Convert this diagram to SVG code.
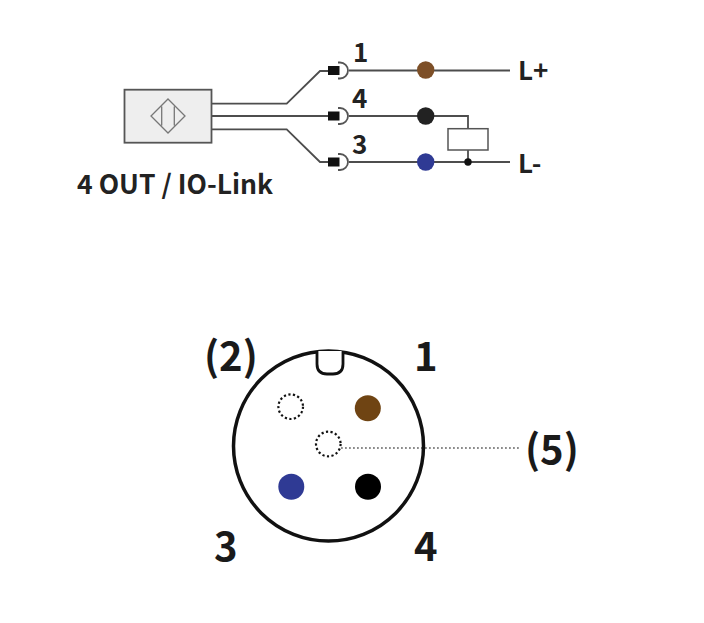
<svg xmlns="http://www.w3.org/2000/svg" width="704" height="623" viewBox="0 0 704 623">
<style>
.w{fill:none;stroke:#4d4d4d;stroke-width:1.800}
.a{fill:none;stroke:#555;stroke-width:1.800}
.t{font-family:"Noto Sans CJK KR","Noto Sans",sans-serif;font-weight:700;fill:#222}
.s{font-size:26px}
.b{font-size:40px;fill:#1a1a1a}
.d{fill:none;stroke:#111;stroke-width:2.200;stroke-dasharray:2.200 2.400}
</style>
<defs>
<g id="plug"><rect x="328" y="-4.500" width="11.500" height="9" fill="#111"/><path class="a" d="M338-8H340A8 8 0 0 1 340 8H338"/></g>
</defs>
<rect width="704" height="623" fill="#fff"/>
<g id="connectors">
<path class="w" d="M211 103.700H286.700L320 71H330M349 70.500H510"/>
<path class="w" d="M211 116H330M349 116H468V129"/>
<path class="w" d="M211 129.300H286.700L320 162H330M349 162H510M468 150V162"/>
<path d="M341 448H520" fill="none" stroke="#666" stroke-width="1.500" stroke-dasharray="1.800 2.200"/>
</g>
<g id="sensor">
<rect x="124.500" y="89.700" width="87" height="53" fill="#eee" stroke="#555" stroke-width="1.800"/>
<path d="M168 99L185 116L168 133L151 116ZM161.700 106.500V125.500M174.300 106.500V125.500" fill="none" stroke="#777" stroke-width="1.300"/>
<text class="t" x="77" y="194" font-size="26.500">4 OUT / IO-Link</text>
</g>
<g id="pin-1"><use href="#plug" y="70.500"/><circle cx="425.700" cy="70" r="8.700" fill="#7d4f27"/><text class="t s" x="353" y="62">1</text></g>
<g id="pin-4"><use href="#plug" y="116"/><circle cx="425.700" cy="116" r="8.700" fill="#222"/><text class="t s" x="352" y="108">4</text></g>
<g id="pin-3"><use href="#plug" y="162"/><circle cx="425.700" cy="162" r="8.700" fill="#2f3a94"/><text class="t s" x="352" y="154">3</text></g>
<g id="load"><rect x="448" y="128.700" width="40" height="21.300" fill="#fff" stroke="#555" stroke-width="1.500"/><circle cx="468" cy="162" r="3.700" fill="#111"/></g>
<g id="label-lplus"><text class="t s" x="518" y="80">L+</text></g>
<g id="label-lminus"><text class="t s" x="518" y="173">L-</text></g>
<g id="connector-face">
<circle cx="328.500" cy="446" r="95" fill="none" stroke="#111" stroke-width="3.500"/>
<path d="M317 351V364Q317 374 327 374H333Q343 374 343 364V351" fill="#fff" stroke="#111" stroke-width="2.800"/>
</g>
<g id="face-pin-1"><circle cx="367.800" cy="408.300" r="13" fill="#6f4413"/><text class="t b" x="414" y="371">1</text></g>
<g id="face-pin-2"><circle cx="290.700" cy="406.700" r="12.300" class="d"/><text class="t b" x="204" y="371">(2)</text></g>
<g id="face-pin-3"><circle cx="291.300" cy="486.700" r="13" fill="#2f3a94"/><text class="t b" x="214" y="561">3</text></g>
<g id="face-pin-4"><circle cx="368" cy="486.700" r="13" fill="#000"/><text class="t b" x="414" y="561">4</text></g>
<g id="face-pin-5"><circle cx="328.300" cy="444" r="12.300" class="d"/><text class="t b" x="525" y="464">(5)</text></g>
</svg>
